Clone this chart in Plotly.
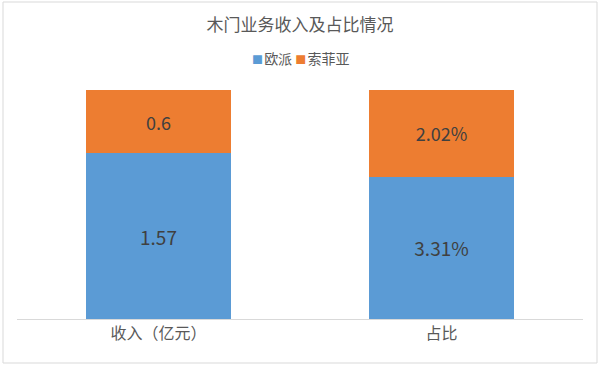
import plotly.graph_objects as go

categories = ["收入（亿元）", "占比"]
oupai = [1.57, 3.31]
sofia = [0.6, 2.02]
units = ["", "%"]
series_names = ["欧派", "索菲亚"]
colors = ["#5B9BD5", "#ED7D31"]

W, H = 600, 367
L, R, T, B = 17, 17, 90, 48
font = "Noto Sans CJK SC, Microsoft YaHei, sans-serif"

fig = go.Figure()
for name, vals, col, fs in [(series_names[0], oupai, colors[0], 19), (series_names[1], sofia, colors[1], 18)]:
    fig.add_trace(go.Bar(
        x=categories, y=vals, name=name, marker=dict(color=col, line=dict(width=0)),
        text=[f"{v}{u}" for v, u in zip(vals, units)],
        textposition="inside", insidetextanchor="middle",
        textfont=dict(size=fs, color="#404040", family=font),
        hoverinfo="skip", showlegend=False,
    ))

pw = W - L - R
ph = H - T - B

legend_text = "\u00a0".join(
    f'<span style="color:{c};font-size:11px">■</span><span style="font-size:5px">\u00a0</span>{n}'
    for n, c in zip(series_names, colors)
)

fig.update_layout(
    width=W, height=H,
    margin=dict(l=L, r=R, t=T, b=B),
    barmode="stack", barnorm="percent", bargap=0.49,
    plot_bgcolor="white", paper_bgcolor="white",
    font=dict(family=font, color="#595959"),
    title=dict(text="木门业务收入及占比情况", x=0.5, xanchor="center",
               y=1 - 25 / H, yanchor="middle",
               font=dict(size=17, color="#595959", family=font)),
    showlegend=False,
    annotations=[dict(text=legend_text, xref="paper", yref="paper", x=0.5, xanchor="center",
                      y=1 + 32 / ph, yanchor="middle", showarrow=False,
                      font=dict(size=14, color="#595959", family=font))],
    xaxis=dict(showline=True, linecolor="#d9d9d9", linewidth=1, showgrid=False,
               ticks="", tickfont=dict(size=16, color="#595959", family=font),
               fixedrange=True),
    yaxis=dict(visible=False, range=[0, 100], fixedrange=True),
    uniformtext=dict(mode=False),
    shapes=[dict(type="rect", xref="paper", yref="paper",
                 x0=(3 - L) / pw, x1=(597 - L) / pw,
                 y0=-(363 - (H - B)) / ph, y1=1 + (T - 2) / ph,
                 line=dict(color="#d9d9d9", width=1), fillcolor="rgba(0,0,0,0)", layer="below")],
)

fig.write_html("out.html", config={"displayModeBar": False})
